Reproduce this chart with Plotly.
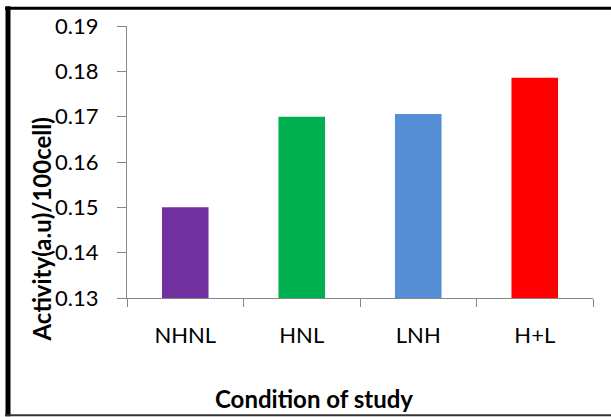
import plotly.graph_objects as go

categories = ["NHNL", "HNL", "LNH", "H+L"]
values = [0.150, 0.170, 0.1706, 0.1786]
colors = ["#7030A0", "#00B050", "#558ED5", "#FF0000"]
y_ticks = [0.13, 0.14, 0.15, 0.16, 0.17, 0.18, 0.19]
y_title = "Activity(a.u)/100cell)"
x_title = "Condition of study"

W, H = 611, 417
L, R, T, B = 127, 18, 24, 119
PW, PH = W - L - R, H - T - B

def px(x):
    return (x - L) / PW

def py(y):
    return (H - B - y) / PH

FONT = "Lato"
axis_col = "#868686"

fig = go.Figure(go.Bar(x=categories, y=values, marker=dict(color=colors, line=dict(width=0)), width=0.4))

fig.update_layout(
    width=W, height=H, autosize=False,
    margin=dict(l=L, r=R, t=T, b=B, pad=0),
    paper_bgcolor="white", plot_bgcolor="white",
    showlegend=False,
    font=dict(family=FONT, color="black"),
    xaxis=dict(
        showline=True, linecolor=axis_col, linewidth=1,
        ticks="outside", tickson="boundaries", ticklen=8, tickcolor=axis_col,
        tickfont=dict(size=22, family=FONT, color="black"),
        showgrid=False, zeroline=False, ticklabelstandoff=18,
    ),
    yaxis=dict(
        range=[0.13, 0.19], tickvals=y_ticks, tickformat=".2f",
        showline=True, linecolor=axis_col, linewidth=1,
        ticks="outside", ticklen=9, tickcolor=axis_col,
        tickfont=dict(size=22, family=FONT, color="black"),
        showgrid=False, zeroline=False, ticklabelstandoff=14,
    ),
    annotations=[
        dict(text="<b>" + y_title + "</b>", x=px(42), y=py(229), xref="paper", yref="paper",
             textangle=-90, showarrow=False, xanchor="center", yanchor="middle",
             font=dict(size=24, family=FONT, color="black")),
        dict(text="<b>" + x_title + "</b>", x=px(314), y=py(399), xref="paper", yref="paper",
             showarrow=False, xanchor="center", yanchor="middle",
             font=dict(size=24, family=FONT, color="black")),
    ],
    shapes=[
        dict(type="line", xref="paper", yref="paper", x0=px(8), x1=px(8), y0=py(4), y1=py(417),
             line=dict(color="black", width=5)),
        dict(type="line", xref="paper", yref="paper", x0=px(5), x1=px(615), y0=py(6), y1=py(6),
             line=dict(color="black", width=3)),
        dict(type="line", xref="paper", yref="paper", x0=px(5), x1=px(615), y0=py(416), y1=py(416),
             line=dict(color="#333333", width=2)),
    ],
)

fig.write_html("out.html")
